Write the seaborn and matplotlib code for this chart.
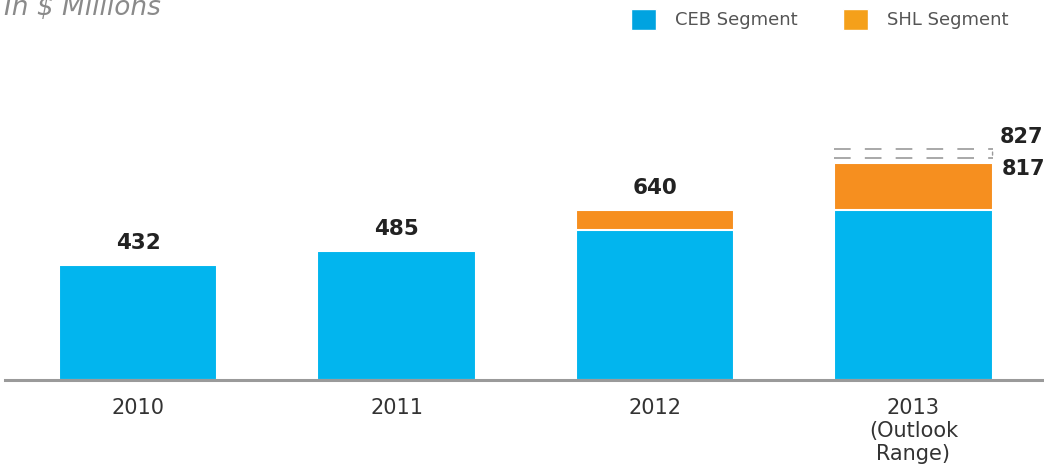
import matplotlib
matplotlib.use("Agg")
import matplotlib.pyplot as plt
import matplotlib.transforms as mtransforms
from matplotlib.patches import Patch
import pandas as pd
import seaborn as sns

# Revenue data (in $ millions)
years = ['2010', '2011', '2012', '2013\n(Outlook\nRange)']
ceb_values = [432, 485, 565, 640]
shl_values = [0, 0, 75, 177]
outlook_low = 817
outlook_high = 827

CEB_COLOR = '#02B5EE'
SHL_COLOR = '#F68F1F'

df = pd.DataFrame({'year': years, 'ceb': ceb_values, 'shl': shl_values})
df['total'] = df['ceb'] + df['shl']

sns.set_style('white')
plt.rcParams['font.family'] = ['DejaVu Sans']

fig = plt.figure(figsize=(10.44, 4.68), dpi=100)
ax = fig.add_axes([0.0048, 88 / 468, 0.9952, 380 / 468])

# Stacked bars: totals (orange) underneath, CEB (blue) on top
sns.barplot(data=df, x='year', y='total', color=SHL_COLOR, saturation=1,
            width=0.612, edgecolor='white', linewidth=1.5, errorbar=None, ax=ax)
sns.barplot(data=df, x='year', y='ceb', color=CEB_COLOR, saturation=1,
            width=0.612, edgecolor='white', linewidth=1.5, errorbar=None, ax=ax)

ax.set_xlim(-0.515, 3.505)
ax.set_ylim(0, 1430)
ax.set_xlabel('')
ax.set_ylabel('')
ax.set_yticks([])
ax.tick_params(axis='x', length=0, pad=13, labelsize=15, labelcolor='#333333')
for lbl in ax.get_xticklabels():
    lbl.set_linespacing(1.2)

for side in ['top', 'left', 'right']:
    ax.spines[side].set_visible(False)
ax.spines['bottom'].set_color('#9a9a9a')
ax.spines['bottom'].set_linewidth(2.2)

# Value labels for the reported years
half_w = 0.306
for i, row in df.iloc[:3].iterrows():
    ax.annotate(f"{row['total']}", (i, row['total']), xytext=(0, 16),
                textcoords='offset points', ha='center', va='center',
                fontsize=15.5, fontweight='bold', color='#222222')

# Outlook range marker for 2013
i13 = 3
x0, x1 = i13 - half_w, i13 + half_w
trans_low = mtransforms.offset_copy(ax.transData, fig=fig, y=3.6, units='points')
trans_high = mtransforms.offset_copy(ax.transData, fig=fig, y=7.9, units='points')
ax.plot([x0, x1], [outlook_low, outlook_low], transform=trans_low,
        color='#9a9a9a', lw=1.2, dashes=(10, 8.5), clip_on=False)
ax.plot([x0, x1], [outlook_high, outlook_high], transform=trans_high,
        color='#9a9a9a', lw=1.2, dashes=(10, 8.5), clip_on=False)
ax.annotate('', xy=(x1, outlook_low), xycoords=trans_low,
            xytext=(x1, outlook_high), textcoords=trans_high,
            arrowprops=dict(arrowstyle='-', color='#9a9a9a', lw=1.0))
ax.annotate(f"{outlook_high}", (x1, outlook_high), xytext=(5, 17),
            textcoords='offset points', ha='left', va='center',
            fontsize=15, fontweight='bold', color='#222222', annotation_clip=False)
ax.annotate(f"{outlook_low}", (x1, outlook_low), xytext=(6.5, -4.5),
            textcoords='offset points', ha='left', va='center',
            fontsize=15, fontweight='bold', color='#222222', annotation_clip=False)

# Title (partly cut at the top edge, as in the original)
fig.text(0.004, 1 - 15 / 468, 'In $ Millions', fontsize=19, style='italic',
         color='#8a8a8a', ha='left', va='baseline')

# Legend
handles = [Patch(facecolor='#00A3E0', label='CEB Segment'),
           Patch(facecolor='#F5A01A', label='SHL Segment')]
fig.legend(handles=handles, loc='upper right', bbox_to_anchor=(0.975, 1.0),
           ncol=2, frameon=False, fontsize=13, labelcolor='#555555',
           handlelength=1.4, handleheight=1.4, handletextpad=1.05,
           columnspacing=2.5, borderaxespad=0.1)

fig.savefig('out.png', dpi=100)
